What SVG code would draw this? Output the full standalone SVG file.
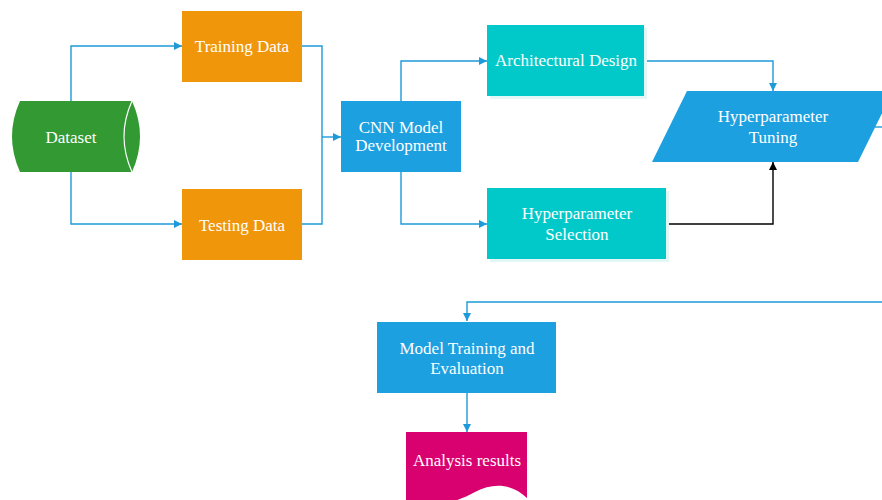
<svg xmlns="http://www.w3.org/2000/svg" width="882" height="500" viewBox="0 0 882 500">
<style>
.t{font-size:17px;fill:#ffffff;text-anchor:middle}
.c{fill:none;stroke:#1E9AD8;stroke-width:1.4}
.k{fill:none;stroke:#000000;stroke-width:1.4}
</style>
<defs>
<marker id="a" viewBox="0 0 10 10" refX="10" refY="5" markerWidth="8" markerHeight="8" markerUnits="userSpaceOnUse" orient="auto"><path d="M0,0 L10,5 L0,10 Z" fill="#1E9AD8"/></marker>
<marker id="ak" viewBox="0 0 10 10" refX="10" refY="5" markerWidth="8" markerHeight="8" markerUnits="userSpaceOnUse" orient="auto"><path d="M0,0 L10,5 L0,10 Z" fill="#000000"/></marker>
</defs>
<rect width="882" height="500" fill="#ffffff"/>
<g id="connectors">
<path class="c" d="M71,101 V46 H182" marker-end="url(#a)"/>
<path class="c" d="M71,172 V224 H182" marker-end="url(#a)"/>
<path class="c" d="M302,46 H322 V224 H302"/>
<path class="c" d="M322,137 H341" marker-end="url(#a)"/>
<path class="c" d="M401,101 V61 H487" marker-end="url(#a)"/>
<path class="c" d="M401,172 V224 H487" marker-end="url(#a)"/>
<path class="c" d="M644,61 H773 V91" marker-end="url(#a)"/>
<path class="k" d="M666,224 H773 V162" marker-end="url(#ak)"/>
<path class="c" d="M875,127 H882"/>
<path class="c" d="M882,302 H467 V321" marker-end="url(#a)"/>
<path class="c" d="M467,393 V432" marker-end="url(#a)"/>
</g>
<g font-family="Liberation Serif, Times New Roman, serif">
<g id="dataset">
<path d="M20,101 H132 Q148,136.5 132,172 H20 Q4,136.5 20,101 Z" fill="#339933"/>
<path d="M132,101 Q116,136.5 132,172" fill="none" stroke="#ffffff" stroke-width="1.2"/>
<text class="t" x="71" y="143">Dataset</text>
</g>
<g id="training">
<rect x="182" y="11" width="120" height="71" fill="#F0960A"/>
<text class="t" x="242" y="52">Training Data</text>
</g>
<g id="testing">
<rect x="182" y="189" width="120" height="71" fill="#F0960A"/>
<text class="t" x="242" y="231">Testing Data</text>
</g>
<g id="cnn">
<rect x="341" y="101" width="120" height="71" fill="#1CA0E0"/>
<text class="t" x="401" y="133">CNN Model</text>
<text class="t" x="401" y="151">Development</text>
</g>
<g id="arch">
<rect x="490" y="28" width="157" height="71" fill="#E3F7F7"/>
<rect x="487" y="25" width="157" height="71" fill="#02C9C9"/>
<text class="t" x="566" y="66">Architectural Design</text>
</g>
<g id="hpsel">
<rect x="490" y="191" width="179" height="71" fill="#E3F7F7"/>
<rect x="487" y="188" width="179" height="71" fill="#02C9C9"/>
<text class="t" x="577" y="219">Hyperparameter</text>
<text class="t" x="577" y="240">Selection</text>
</g>
<g id="hptune">
<polygon points="687,91 893,91 858,162 652,162" fill="#1CA0E0"/>
<text class="t" x="773" y="122">Hyperparameter</text>
<text class="t" x="773" y="143">Tuning</text>
</g>
<g id="modeltrain">
<rect x="377" y="322" width="179" height="71" fill="#1CA0E0"/>
<text class="t" x="467" y="354">Model Training and</text>
<text class="t" x="467" y="374">Evaluation</text>
</g>
<g id="analysis">
<path d="M406,432 H527 V498 C512,484 494,482 475,492 C452,505 428,508 406,502 Z" fill="#D9006F"/>
<text class="t" x="467" y="466">Analysis results</text>
</g>
</g>
</svg>
